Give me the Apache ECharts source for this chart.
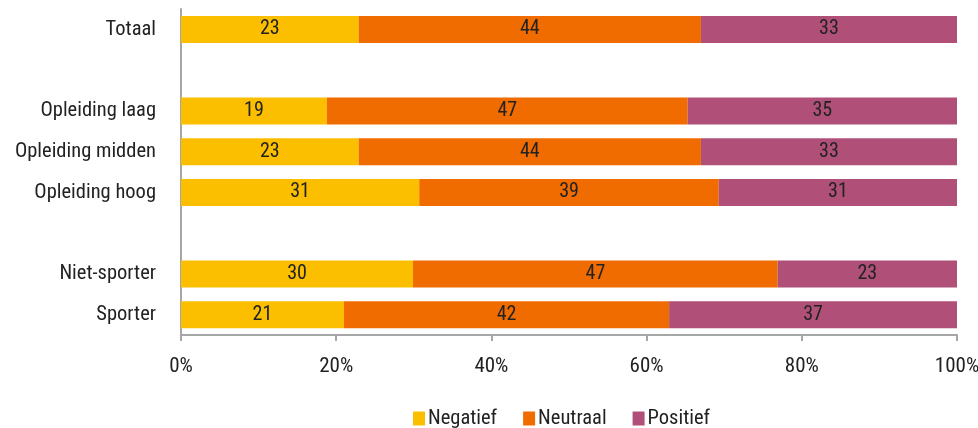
<!DOCTYPE html>
<html><head><meta charset="utf-8">
<script src="https://cdn.jsdelivr.net/npm/echarts@6/dist/echarts.min.js"></script>
<style>html,body{margin:0;padding:0;background:#fff}#c{width:978px;height:428px}</style>
</head><body><div id="c"></div>
<script>
const categories = ['Totaal', '', 'Opleiding laag', 'Opleiding midden', 'Opleiding hoog', ' ', 'Niet-sporter', 'Sporter'];
const negatief = [22.9, null, 18.8, 22.9, 30.7, null, 29.9, 21.0];
const neutraal = [44.1, null, 46.5, 44.1, 38.6, null, 47.0, 41.9];
const positief = [33.0, null, 34.7, 33.0, 30.7, null, 23.1, 37.1];
const xTicks = [0, 20, 40, 60, 80, 100];

const FONT = '"Liberation Sans Narrow", "Arial Narrow", "Roboto Condensed", Roboto, sans-serif';
const colors = ['#FBBF00', '#F06B00', '#B05079'];
const mk = (name, data, color) => ({
  name, type: 'bar', stack: 't', data, barWidth: 27,
  itemStyle: { color },
  label: { show: true, position: 'inside', color: '#222', fontFamily: FONT, fontSize: 20,
    formatter: p => p.value == null ? '' : Math.round(p.value) }
});
const chart = echarts.init(document.getElementById('c'));
chart.setOption({
  animation: false,
  textStyle: { fontFamily: FONT },
  grid: { left: 181, right: 21, top: 9, bottom: 93, containLabel: false, outerBoundsMode: 'none' },
  legend: { bottom: -6, left: 408, itemWidth: 12, itemHeight: 14, itemGap: 26, icon: 'rect',
    textStyle: { fontFamily: FONT, fontSize: 20.5, color: '#222', padding: [0, 0, 0, -2] } },
  xAxis: { type: 'value', min: 0, max: 100, interval: 20,
    axisLine: { show: true, lineStyle: { color: '#a6a6a6', width: 2 } },
    axisTick: { show: true, length: 6, lineStyle: { color: '#a6a6a6', width: 2 } },
    splitLine: { show: false },
    axisLabel: { formatter: v => xTicks.includes(v) ? v + '%' : '', fontFamily: FONT, fontSize: 21, color: '#222', margin: 21 } },
  yAxis: { type: 'category', data: categories, inverse: true,
    axisLine: { show: true, lineStyle: { color: '#a6a6a6', width: 2 } },
    axisTick: { show: false },
    axisLabel: { fontFamily: FONT, fontSize: 20.5, color: '#222', margin: 25 } },
  series: [mk('Negatief', negatief, colors[0]), mk('Neutraal', neutraal, colors[1]), mk('Positief', positief, colors[2])]
});
</script></body></html>
